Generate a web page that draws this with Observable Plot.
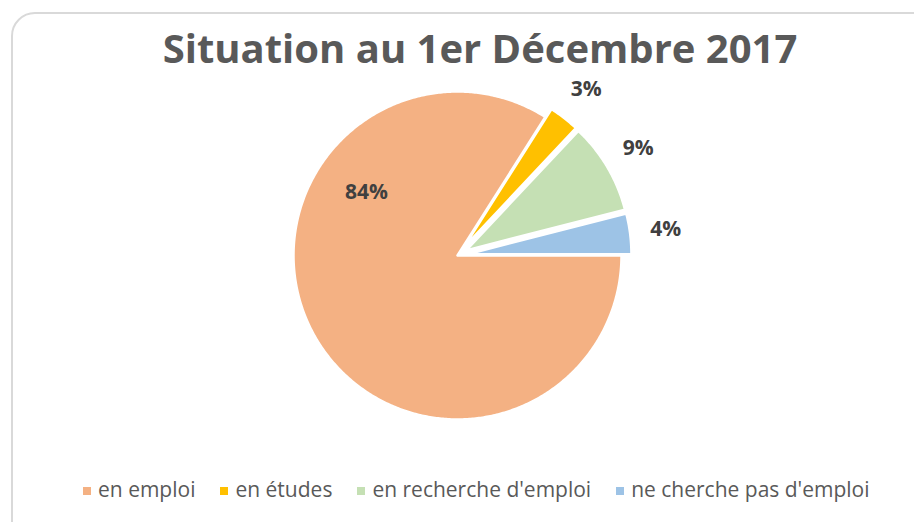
<!DOCTYPE html>
<html>
<head>
<meta charset="utf-8">
<script src="https://cdn.jsdelivr.net/npm/d3@7"></script>
<script src="https://cdn.jsdelivr.net/npm/@observablehq/plot@0.6"></script>
<style>
  html, body { margin: 0; padding: 0; background: #fff; }
  body { width: 914px; height: 522px; overflow: hidden; position: relative; font-family: "Open Sans", sans-serif; }
  #frame { position: absolute; left: 11px; top: 12px; width: 940px; height: 540px; border: 2px solid #d9d9d9; border-radius: 24px; box-sizing: border-box; }
  #title { position: absolute; left: 0; top: 28px; width: 960px; text-align: center; font-size: 40px; line-height: 40px; font-weight: 700; color: #595959; white-space: nowrap; }
  #chart { position: absolute; left: 0; top: 65px; }
  #legend { position: absolute; left: 83px; top: 479px; display: flex; font-size: 21px; line-height: 21px; color: #595959; white-space: nowrap; }
  .item { display: flex; align-items: center; margin-right: 25px; }
  .sw { width: 8px; height: 8px; margin-right: 7px; margin-top: 3px; }
</style>
</head>
<body>
<div id="frame"></div>
<div id="title">Situation au 1er Décembre 2017</div>
<div id="chart"></div>
<div id="legend"></div>
<script>
// ---- data ----
const categories = ["en emploi", "en études", "en recherche d'emploi", "ne cherche pas d'emploi"];
const values = [84, 3, 9, 4];
const labels = ["84%", "3%", "9%", "4%"];
const colors = ["#F4B183", "#FFC000", "#C5E0B4", "#9DC3E6"];
const exploded = [false, true, true, true];

// ---- layout constants ----
const W = 914, H = 380;
const R = 164;            // pie radius in px
const CX = 457, CY = 190; // pie centre inside the svg
const EXP = 10 / R;       // explosion offset (in radius units)

const rows = categories.map((name, i) => ({name, value: values[i], label: labels[i], exploded: exploded[i]}));
const arcs = d3.pie().sort(null).value(d => d.value)
  .startAngle(Math.PI / 2).endAngle(Math.PI / 2 + 2 * Math.PI)(rows);

// polygon points for every slice (angle measured clockwise from 12 o'clock)
const pts = [];
const labelPts = [];
arcs.forEach(a => {
  const mid = (a.startAngle + a.endAngle) / 2;
  const off = a.data.exploded ? EXP : 0;
  const ox = off * Math.sin(mid), oy = off * Math.cos(mid);
  pts.push({name: a.data.name, x: ox, y: oy});
  const n = Math.max(8, Math.ceil((a.endAngle - a.startAngle) / 0.01));
  for (let k = 0; k <= n; k++) {
    const t = a.startAngle + (a.endAngle - a.startAngle) * k / n;
    pts.push({name: a.data.name, x: ox + Math.sin(t), y: oy + Math.cos(t)});
  }
  // labels: small slices outside along the mid angle, the big one inside (best fit)
  const inside = (a.endAngle - a.startAngle) > Math.PI;
  const ang = inside ? (304.7 * Math.PI / 180) : mid;
  const rr = inside ? 0.675 : 1.28;
  labelPts.push({label: a.data.label, x: rr * Math.sin(ang), y: rr * Math.cos(ang)});
});

const chart = Plot.plot({
  width: W,
  height: H,
  margin: 0,
  style: {background: "transparent", overflow: "visible"},
  x: {domain: [-CX / R, (W - CX) / R], range: [0, W], axis: null},
  y: {domain: [-(H - CY) / R, CY / R], range: [H, 0], axis: null},
  color: {domain: categories, range: colors},
  marks: [
    Plot.line(pts, {x: "x", y: "y", z: "name", fill: "name", stroke: "white", strokeWidth: 2.5, curve: "linear-closed"}),
    Plot.text(labelPts, {x: "x", y: "y", text: "label", fill: "#404040", fontSize: 21, fontWeight: 700, fontFamily: "Open Sans"})
  ]
});
document.getElementById("chart").appendChild(chart);

// legend (HTML, below the svg)
const lg = document.getElementById("legend");
categories.forEach((c, i) => {
  const it = document.createElement("div");
  it.className = "item";
  const sw = document.createElement("span");
  sw.className = "sw";
  sw.style.background = colors[i];
  const tx = document.createElement("span");
  tx.textContent = c;
  it.appendChild(sw);
  it.appendChild(tx);
  lg.appendChild(it);
});
</script>
</body>
</html>
